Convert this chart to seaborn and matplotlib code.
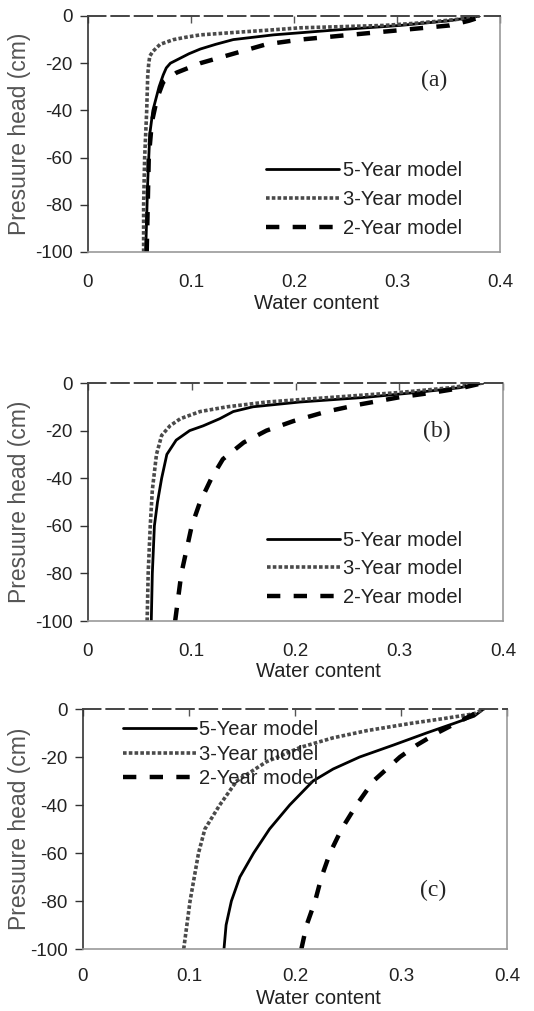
import matplotlib
matplotlib.use("Agg")
import matplotlib.pyplot as plt
import seaborn as sns
import pandas as pd

sns.set_style("white")
plt.rcParams['font.family'] = ['Liberation Sans', 'DejaVu Sans']
plt.rcParams['axes.unicode_minus'] = False

# ---------------- data ----------------
series_names = ["5-Year model", "3-Year model", "2-Year model"]
panel_labels = ["(a)", "(b)", "(c)"]
x_ticks = [0, 0.1, 0.2, 0.3, 0.4]
x_ticklabels = ["0", "0.1", "0.2", "0.3", "0.4"]
y_ticks = [0, -20, -40, -60, -80, -100]

# Panel (a)
a_h5 = [-100, -70, -50, -40, -30, -25, -22, -20, -18, -16, -14, -12, -10, -8, -6, -4, -2, 0]
a_w5 = [0.056, 0.058, 0.060, 0.063, 0.069, 0.073, 0.076, 0.080, 0.089, 0.098, 0.109, 0.124, 0.141, 0.180, 0.238, 0.303, 0.351, 0.380]
a_h3 = [-100, -80, -60, -40, -25, -20, -17, -15, -12, -10, -9, -8, -7, -6, -5, -4, -3, -2, -1, 0]
a_w3 = [0.054, 0.054, 0.055, 0.057, 0.058, 0.059, 0.060, 0.063, 0.070, 0.083, 0.095, 0.109, 0.141, 0.175, 0.206, 0.287, 0.320, 0.345, 0.368, 0.380]
a_h2 = [-100, -80, -60, -45, -35, -28, -24, -20, -16, -12, -10, -8, -6, -4, -2, -1, 0]
a_w2 = [0.057, 0.058, 0.059, 0.062, 0.067, 0.073, 0.086, 0.109, 0.141, 0.173, 0.206, 0.254, 0.303, 0.351, 0.370, 0.377, 0.380]

# Panel (b)
b_h5 = [-100, -80, -60, -50, -40, -30, -24, -20, -18, -15, -12, -10, -8, -6, -4, -2, 0]
b_w5 = [0.061, 0.062, 0.064, 0.067, 0.071, 0.076, 0.085, 0.098, 0.111, 0.127, 0.140, 0.159, 0.204, 0.268, 0.316, 0.358, 0.381]
b_h3 = [-100, -80, -60, -45, -30, -22, -18, -15, -12, -10, -8, -6, -4, -2, 0]
b_w3 = [0.057, 0.058, 0.060, 0.062, 0.066, 0.071, 0.079, 0.089, 0.108, 0.134, 0.172, 0.236, 0.300, 0.349, 0.381]
b_h2 = [-100, -90, -80, -70, -60, -50, -40, -32, -25, -20, -16, -12, -9, -6, -4, -2, 0]
b_w2 = [0.084, 0.087, 0.090, 0.095, 0.100, 0.108, 0.119, 0.130, 0.150, 0.172, 0.198, 0.230, 0.262, 0.300, 0.333, 0.361, 0.381]

# Panel (c)
c_h5 = [-100, -90, -80, -70, -60, -50, -40, -30, -25, -20, -15, -10, -6, -3, 0]
c_w5 = [0.133, 0.135, 0.140, 0.148, 0.161, 0.176, 0.195, 0.217, 0.236, 0.261, 0.293, 0.324, 0.350, 0.369, 0.378]
c_h3 = [-100, -90, -80, -70, -60, -50, -40, -30, -22, -16, -12, -9, -6, -4, -2, 0]
c_w3 = [0.095, 0.098, 0.101, 0.105, 0.109, 0.115, 0.129, 0.145, 0.173, 0.205, 0.236, 0.268, 0.309, 0.340, 0.369, 0.378]
c_h2 = [-100, -90, -80, -70, -60, -50, -40, -30, -20, -15, -10, -5, 0]
c_w2 = [0.206, 0.211, 0.219, 0.225, 0.233, 0.244, 0.258, 0.274, 0.299, 0.315, 0.334, 0.356, 0.378]

panels = [
    [(a_w5, a_h5), (a_w3, a_h3), (a_w2, a_h2)],
    [(b_w5, b_h5), (b_w3, b_h3), (b_w2, b_h2)],
    [(c_w5, c_h5), (c_w3, c_h3), (c_w2, c_h2)],
]

styles = [
    dict(color="black", linewidth=2.0, linestyle="-"),
    dict(color="#4a4a4a", linewidth=2.6, linestyle=(0, (1.0, 0.6))),
    dict(color="black", linewidth=3.2, linestyle=(0, (3.0, 3.0))),
]

# ---------------- layout ----------------
W, H = 534, 1011
fig = plt.figure(figsize=(W / 100, H / 100), dpi=100)

def box(l, r, t, b):
    return [l / W, 1 - b / H, (r - l) / W, (b - t) / H]

axes_boxes = [box(88, 500, 16, 252), box(88, 503, 383, 621), box(83, 507, 709, 949)]
label_pos = [(0.84, 0.725), (0.84, 0.795), (0.825, 0.245)]
xlabel_y = [-0.218, -0.212, -0.206]
xtick_pad = [16, 16, 14]
legend_cfg = [
    dict(loc="upper left", bbox_to_anchor=(0.432, 0.385), labelspacing=0.49),
    dict(loc="upper left", bbox_to_anchor=(0.431, 0.38), labelspacing=0.49),
    dict(loc="upper left", bbox_to_anchor=(0.094, 0.955), labelspacing=0.29),
]
FS_TICK = 13.5
FS = 14.5

for i, bx in enumerate(axes_boxes):
    ax = fig.add_axes(bx)
    for (w, h), name, st in zip(panels[i], series_names, styles):
        df = pd.DataFrame({"w": w, "h": h})
        sns.lineplot(data=df, x="w", y="h", sort=False, estimator=None, ax=ax,
                     label=name, **st)
    ax.set_xlim(0, 0.4)
    ax.set_ylim(-100, 0)
    ax.set_xticks(x_ticks)
    ax.set_xticklabels(x_ticklabels)
    ax.set_yticks(y_ticks)
    ax.tick_params(axis="x", top=True, bottom=False, labeltop=False, labelbottom=True,
                   direction="in", length=5, width=1, pad=xtick_pad[i], labelsize=FS_TICK,
                   color="#555555", labelcolor="#222222")
    ax.tick_params(axis="y", left=True, direction="out", length=6, width=1, pad=5,
                   labelsize=FS_TICK, color="#333333", labelcolor="#222222")
    for s in ["right", "bottom"]:
        ax.spines[s].set_color("#999999")
        ax.spines[s].set_linewidth(1.2)
    ax.spines["left"].set_color("#333333")
    ax.spines["left"].set_linewidth(1.2)
    ax.spines["top"].set_color("#444444")
    ax.spines["top"].set_linewidth(1.4)
    ax.spines["top"].set_linestyle((0, (9, 3)))
    ax.set_xlabel("Water content", fontsize=FS, color="#222222")
    ax.xaxis.label.set_va("center")
    ax.xaxis.set_label_coords(0.555, xlabel_y[i])
    ax.set_ylabel("Presuure head (cm)", fontsize=16.5, color="#555555")
    ax.yaxis.label.set_va("center")
    ax.yaxis.set_label_coords(-(bx[0] * W - 20) / (bx[2] * W), 0.5)
    ax.text(label_pos[i][0], label_pos[i][1], panel_labels[i], transform=ax.transAxes,
            fontsize=17, family="Liberation Serif", ha="center", va="center")
    leg = ax.legend(frameon=False, fontsize=FS, handlelength=3.65, handletextpad=0.15,
                    borderpad=0, borderaxespad=0, **legend_cfg[i])
    for t in leg.get_texts():
        t.set_color("#222222")

fig.savefig("out.png", dpi=100)
